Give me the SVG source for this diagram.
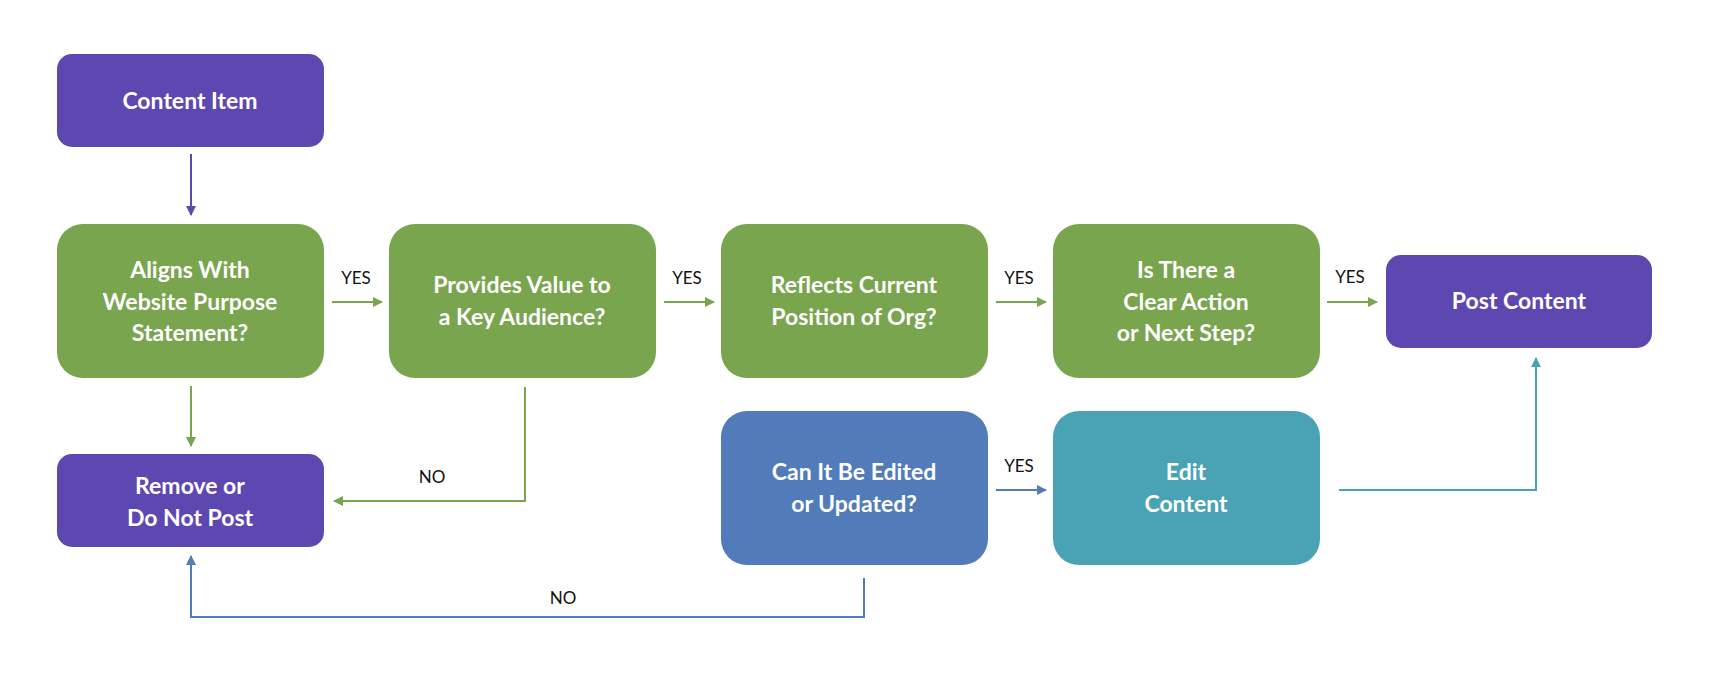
<svg xmlns="http://www.w3.org/2000/svg" width="1710" height="688" viewBox="0 0 1710 688">
<style>
.t{font-family:Lato,"Liberation Sans",sans-serif;font-weight:bold;font-size:23px;fill:#fff;text-anchor:middle}
.l{font-family:Lato,"Liberation Sans",sans-serif;font-size:17px;fill:#111;text-anchor:middle}
.p{fill:#5d47b1}.g{fill:#78a54e}.b{fill:#527bba}.c{fill:#4aa3b4}
.cn path{fill:none;stroke-width:2}
</style>
<defs>
<marker id="ap" markerWidth="10" markerHeight="10" refX="9" refY="5" orient="auto" markerUnits="userSpaceOnUse"><path d="M0,0L10,5L0,10z" fill="#5d47b1"/></marker>
<marker id="ag" markerWidth="10" markerHeight="10" refX="9" refY="5" orient="auto" markerUnits="userSpaceOnUse"><path d="M0,0L10,5L0,10z" fill="#78a54e"/></marker>
<marker id="ab" markerWidth="10" markerHeight="10" refX="9" refY="5" orient="auto" markerUnits="userSpaceOnUse"><path d="M0,0L10,5L0,10z" fill="#527bba"/></marker>
<marker id="ac" markerWidth="10" markerHeight="10" refX="9" refY="5" orient="auto" markerUnits="userSpaceOnUse"><path d="M0,0L10,5L0,10z" fill="#4aa3b4"/></marker>
</defs>
<rect width="1710" height="688" fill="#fff"/>
<g id="n-content"><rect class="p" x="57" y="54" width="267" height="93" rx="15"/><text class="t" x="190" y="109">Content Item</text></g>
<g id="n-aligns"><rect class="g" x="57" y="224" width="267" height="154" rx="26"/><text class="t" x="190" y="278">Aligns With</text><text class="t" x="190" y="310">Website Purpose</text><text class="t" x="190" y="341">Statement?</text></g>
<g id="n-provides"><rect class="g" x="389" y="224" width="267" height="154" rx="26"/><text class="t" x="522" y="293">Provides Value to</text><text class="t" x="522" y="325">a Key Audience?</text></g>
<g id="n-reflects"><rect class="g" x="721" y="224" width="267" height="154" rx="26"/><text class="t" x="854" y="293">Reflects Current</text><text class="t" x="854" y="325">Position of Org?</text></g>
<g id="n-clear"><rect class="g" x="1053" y="224" width="267" height="154" rx="26"/><text class="t" x="1186" y="278">Is There a</text><text class="t" x="1186" y="310">Clear Action</text><text class="t" x="1186" y="341">or Next Step?</text></g>
<g id="n-post"><rect class="p" x="1386" y="255" width="266" height="93" rx="15"/><text class="t" x="1519" y="309">Post Content</text></g>
<g id="n-remove"><rect class="p" x="57" y="454" width="267" height="93" rx="15"/><text class="t" x="190" y="494">Remove or</text><text class="t" x="190" y="526">Do Not Post</text></g>
<g id="n-edited"><rect class="b" x="721" y="411" width="267" height="154" rx="26"/><text class="t" x="854" y="480">Can It Be Edited</text><text class="t" x="854" y="512">or Updated?</text></g>
<g id="n-edit"><rect class="c" x="1053" y="411" width="267" height="154" rx="26"/><text class="t" x="1186" y="480">Edit</text><text class="t" x="1186" y="512">Content</text></g>
<g id="connectors" class="cn">
<path d="M191,154V215" stroke="#5d47b1" marker-end="url(#ap)"/>
<path d="M332,302H382" stroke="#78a54e" marker-end="url(#ag)"/>
<path d="M664,302H714" stroke="#78a54e" marker-end="url(#ag)"/>
<path d="M996,302H1046" stroke="#78a54e" marker-end="url(#ag)"/>
<path d="M1327,302H1377" stroke="#78a54e" marker-end="url(#ag)"/>
<path d="M191,386V446" stroke="#78a54e" marker-end="url(#ag)"/>
<path d="M525,387V501H334" stroke="#78a54e" marker-end="url(#ag)"/>
<path d="M996,490H1046" stroke="#527bba" marker-end="url(#ab)"/>
<path d="M864,578V617H191V556" stroke="#527bba" marker-end="url(#ab)"/>
<path d="M1339,490H1536V358" stroke="#4aa3b4" marker-end="url(#ac)"/>
</g>
<g id="labels">
<text class="l" x="356" y="284">YES</text>
<text class="l" x="687" y="284">YES</text>
<text class="l" x="1019" y="284">YES</text>
<text class="l" x="1350" y="283">YES</text>
<text class="l" x="1019" y="472">YES</text>
<text class="l" x="432" y="483">NO</text>
<text class="l" x="563" y="604">NO</text>
</g>
</svg>
